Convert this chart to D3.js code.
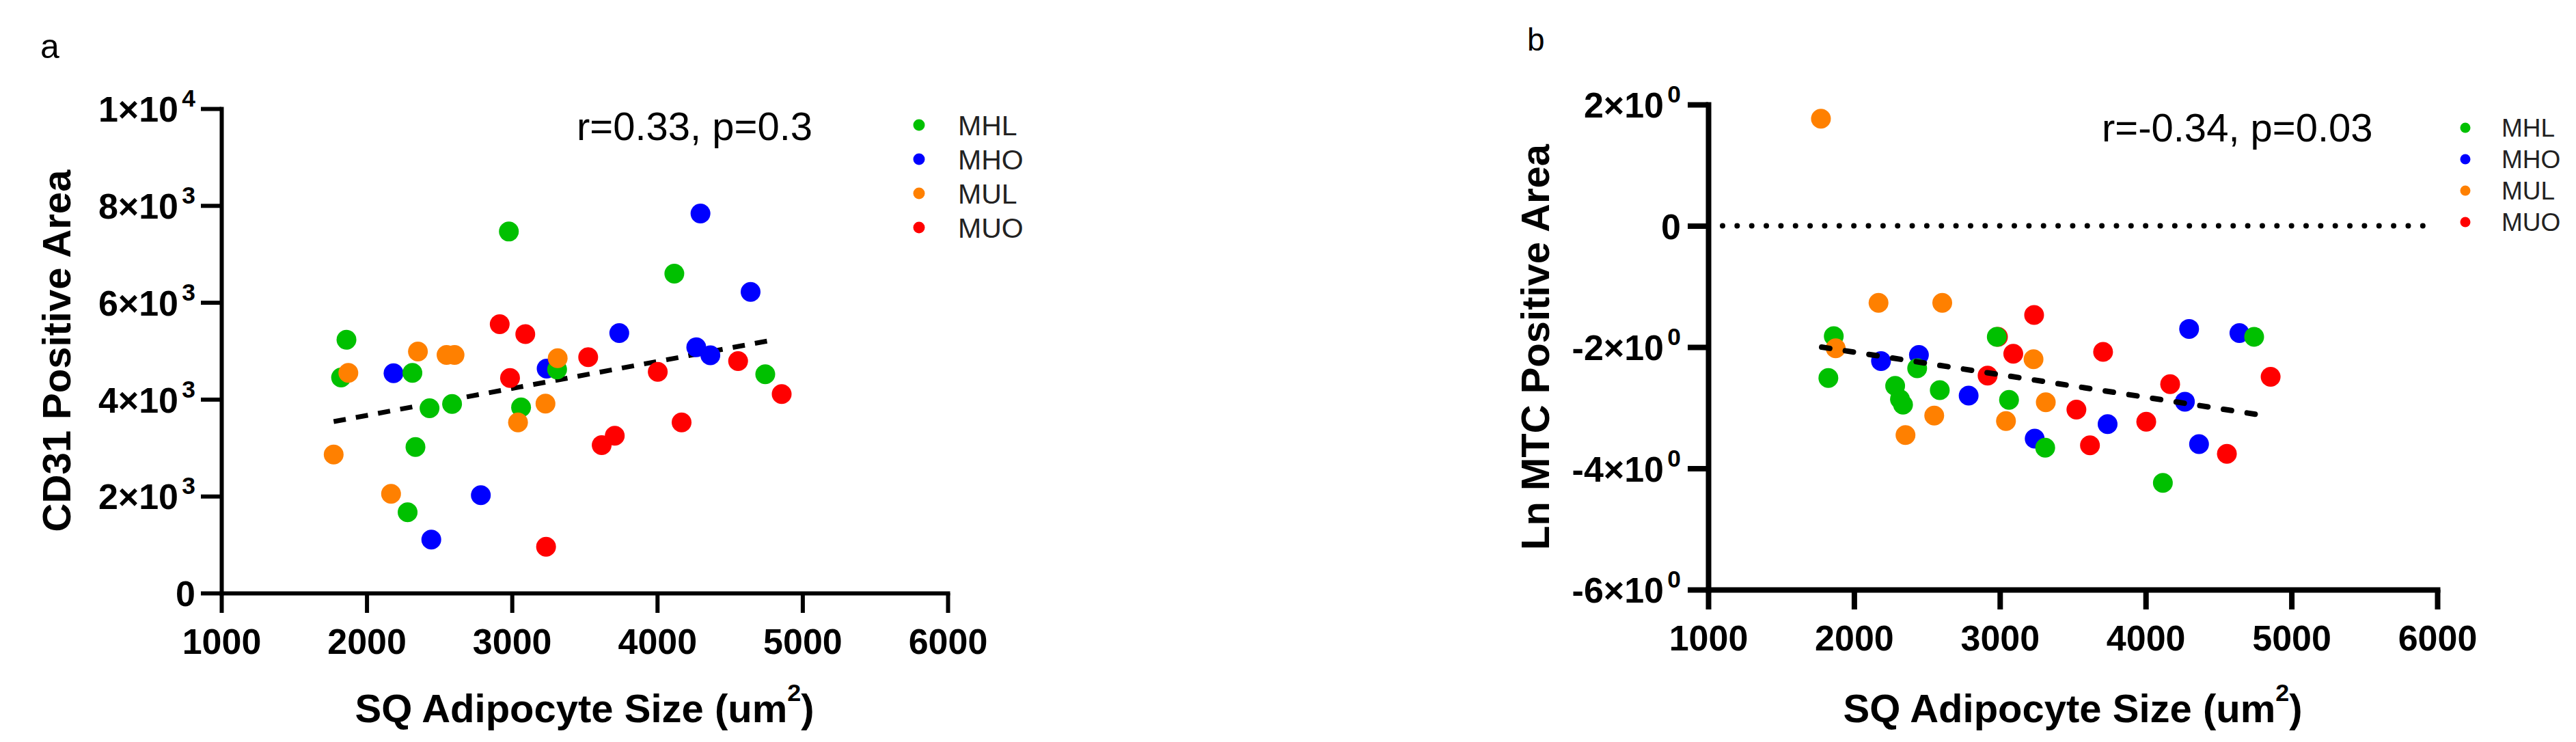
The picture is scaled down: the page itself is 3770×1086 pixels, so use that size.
<!DOCTYPE html>
<html>
<head>
<meta charset="utf-8">
<script src="https://cdn.jsdelivr.net/npm/d3@7"></script>
<style>
  body { margin: 0; background: #fff; }
  text { font-family: 'Liberation Sans', Arial, sans-serif; }
</style>
</head>
<body>
<script>
// Groups (legend order)
var groups = ['MHL', 'MHO', 'MUL', 'MUO'];
var groupColors = ['#00c000', '#0000ff', '#ff8000', '#ff0000'];

// SQ adipocyte size (um2) per subject, shared by both panels
var mhlSize = [1824, 1861, 2282, 2315, 2336, 2433, 2588, 2979, 3063, 3311, 4118, 4744];
var mhoSize = [2185, 2445, 2786, 3239, 3739, 4269, 4298, 4366, 4643];
var mulSize = [1773, 1874, 2168, 2353, 2550, 2605, 3042, 3231, 3315];
var muoSize = [2916, 2987, 3092, 3235, 3525, 3618, 3708, 4004, 4168, 4557, 4857];

// Panel a: CD31 positive area
var mhlCd31 = [4449, 5229, 1668, 4546, 3015, 3815, 3902, 7463, 3834, 4615, 6595, 4517];
var mhoCd31 = [4537, 1102, 2020, 4634, 5366, 5073, 7834, 4907, 6215];
var mulCd31 = [2859, 4546, 2049, 4985, 4917, 4917, 3522, 3912, 4849];
var muoCd31 = [5551, 4439, 5346, 956, 4868, 3054, 3249, 4566, 3522, 4790, 4107];

// Panel b: Ln MTC positive area
var mhlMtc = [-2.51, -1.82, -2.64, -2.86, -2.95, -2.35, -2.71, -1.83, -2.87, -3.66, -4.24, -1.83];
var mhoMtc = [-2.23, -2.13, -2.80, -3.51, -3.27, -2.90, -1.70, -3.60, -1.77];
var mulMtc = [1.765, -2.02, -1.27, -3.45, -3.13, -1.27, -3.22, -2.20, -2.91];
var muoMtc = [-2.47, -1.83, -2.11, -1.47, -3.03, -3.62, -2.08, -3.23, -2.61, -3.76, -2.49];

// Axis ticks and labels
var sizeTicks = [1000, 2000, 3000, 4000, 5000, 6000];
var cd31Ticks = [0, 2000, 4000, 6000, 8000, 10000];
var cd31TickBase = ['0', '2×10', '4×10', '6×10', '8×10', '1×10'];
var cd31TickExp = ['', '3', '3', '3', '3', '4'];
var mtcTicks = [-6, -4, -2, 0, 2];
var mtcTickBase = ['-6×10', '-4×10', '-2×10', '0', '2×10'];
var mtcTickExp = ['0', '0', '0', '', '0'];

// Linear fit lines (end points)
var cd31FitX = [1773, 4807];
var cd31FitY = [3540, 5230];
var mtcFitX = [1778, 4815];
var mtcFitY = [-2.0, -3.13];

var sizes = [mhlSize, mhoSize, mulSize, muoSize];
var drawOrder = [3, 1, 0, 2];

var svg = d3.select('body').append('svg')
    .attr('width', 3770)
    .attr('height', 1086)
    .style('background', '#fff');

function scatterPanel(svg, p) {
    var x = d3.scaleLinear().domain([1000, 6000]).range([p.left, p.right]);
    var y = d3.scaleLinear().domain(p.yDomain).range([p.bottom, p.top]);
    var g = svg.append('g');

    // Zero reference line (dotted)
    if (p.zeroLine) {
        g.append('line')
            .attr('x1', x.range()[0] + 21)
            .attr('x2', x.range()[1] - 21)
            .attr('y1', y(0))
            .attr('y2', y(0))
            .attr('stroke', '#000')
            .attr('stroke-width', 8)
            .attr('stroke-linecap', 'round')
            .attr('stroke-dasharray', '0 21.35');
    }

    var fitLine = d3.line()
        .x(function(d) { return x(d[0]); })
        .y(function(d) { return y(d[1]); });

    function drawFit() {
        g.append('path')
            .datum(d3.zip(p.fitX, p.fitY))
            .attr('d', fitLine)
            .attr('fill', 'none')
            .attr('stroke', '#000')
            .attr('stroke-width', p.fitWidth)
            .attr('stroke-linecap', p.fitCap)
            .attr('stroke-dasharray', p.fitDash);
    }

    if (!p.fitOnTop) drawFit();

    // Points, one group at a time
    drawOrder.forEach(function(k) {
        g.append('g').selectAll('circle')
            .data(d3.zip(sizes[k], p.values[k]))
            .join('circle')
            .attr('cx', function(d) { return x(d[0]); })
            .attr('cy', function(d) { return y(d[1]); })
            .attr('r', 14.5)
            .attr('fill', groupColors[k]);
    });

    if (p.fitOnTop) drawFit();

    // Axes
    var gx = g.append('g')
        .attr('transform', 'translate(0,' + p.bottom + ')')
        .call(d3.axisBottom(x).tickValues(sizeTicks).tickSize(29).tickSizeOuter(0)
            .tickPadding(23).tickFormat(d3.format('')));

    var gy = g.append('g')
        .attr('transform', 'translate(' + p.left + ',0)')
        .call(d3.axisLeft(y).tickValues(p.ticks).tickSize(30).tickSizeOuter(0)
            .tickPadding(p.tickPad));

    [gx, gy].forEach(function(a) {
        a.attr('font-size', 52)
            .attr('font-weight', 'bold')
            .attr('font-family', "'Liberation Sans', Arial, sans-serif");
        a.selectAll('line, path')
            .attr('stroke', '#000')
            .attr('stroke-width', p.axisWidth);
        a.select('.domain').attr('stroke-linecap', 'square');
        a.selectAll('text').attr('fill', '#000');
    });

    // y tick labels with superscript exponent
    gy.selectAll('.tick text')
        .attr('dy', '0.36em')
        .each(function(d, i) {
            var t = d3.select(this).text(null);
            t.append('tspan').text(p.tickBase[i]);
            if (p.tickExp[i]) {
                t.append('tspan')
                    .attr('font-size', '0.68em')
                    .attr('dx', '0.15em')
                    .attr('dy', '-0.62em')
                    .text(p.tickExp[i]);
            }
        });

    // Axis titles
    var xt = g.append('text')
        .attr('x', (p.left + p.right) / 2)
        .attr('y', 1057)
        .attr('text-anchor', 'middle')
        .attr('font-size', 58)
        .attr('font-weight', 'bold');
    xt.append('tspan').text('SQ Adipocyte Size (um');
    xt.append('tspan').attr('font-size', '0.62em').attr('dy', '-0.85em').text('2');
    xt.append('tspan').attr('dy', '0.53em').text(')');

    g.append('text')
        .attr('transform', 'translate(' + p.yTitleX + ',' + (p.top + p.bottom) / 2 + ') rotate(-90)')
        .attr('text-anchor', 'middle')
        .attr('font-size', 58)
        .attr('font-weight', 'bold')
        .text(p.yTitle);

    // Stats text
    g.append('text')
        .attr('x', p.statX)
        .attr('y', p.statY)
        .attr('font-size', 58)
        .text(p.stat);

    // Panel letter
    g.append('text')
        .attr('x', p.letterX)
        .attr('y', p.letterY)
        .attr('font-size', p.letterSize)
        .text(p.letter);

    // Legend
    var leg = g.append('g').selectAll('g')
        .data(groups)
        .join('g')
        .attr('transform', function(d, i) { return 'translate(' + p.legX + ',' + (p.legY + i * p.legDy) + ')'; });
    leg.append('circle')
        .attr('r', p.legR)
        .attr('fill', function(d, i) { return groupColors[i]; });
    leg.append('text')
        .attr('x', p.legTextDx)
        .attr('dy', '0.36em')
        .attr('font-size', p.legFont)
        .attr('fill', '#222')
        .text(function(d) { return d; });
}

// Panel a
scatterPanel(svg, {
    left: 324, right: 1387, top: 159, bottom: 868,
    yDomain: [0, 10000],
    ticks: cd31Ticks, tickBase: cd31TickBase, tickExp: cd31TickExp, tickPad: 8,
    values: [mhlCd31, mhoCd31, mulCd31, muoCd31],
    fitX: cd31FitX, fitY: cd31FitY,
    fitWidth: 7, fitCap: 'butt', fitDash: '18 15', fitOnTop: false,
    axisWidth: 6,
    zeroLine: false,
    yTitle: 'CD31 Positive Area', yTitleX: 103,
    stat: 'r=0.33, p=0.3', statX: 844, statY: 205,
    letter: 'a', letterX: 59, letterY: 85, letterSize: 50,
    legX: 1345, legY: 183, legDy: 50, legR: 8.5, legTextDx: 57, legFont: 41
});

// Panel b
scatterPanel(svg, {
    left: 2500, right: 3567, top: 153, bottom: 863,
    yDomain: [-6, 2],
    ticks: mtcTicks, tickBase: mtcTickBase, tickExp: mtcTickExp, tickPad: 10,
    values: [mhlMtc, mhoMtc, mulMtc, muoMtc],
    fitX: mtcFitX, fitY: mtcFitY,
    fitWidth: 8, fitCap: 'round', fitDash: '12 23', fitOnTop: true,
    axisWidth: 8,
    zeroLine: true,
    yTitle: 'Ln MTC Positive Area', yTitleX: 2267,
    stat: 'r=-0.34, p=0.03', statX: 3076, statY: 207,
    letter: 'b', letterX: 2235, letterY: 74, letterSize: 46,
    legX: 3608, legY: 187, legDy: 46, legR: 7.5, legTextDx: 53, legFont: 37
});
</script>
</body>
</html>
